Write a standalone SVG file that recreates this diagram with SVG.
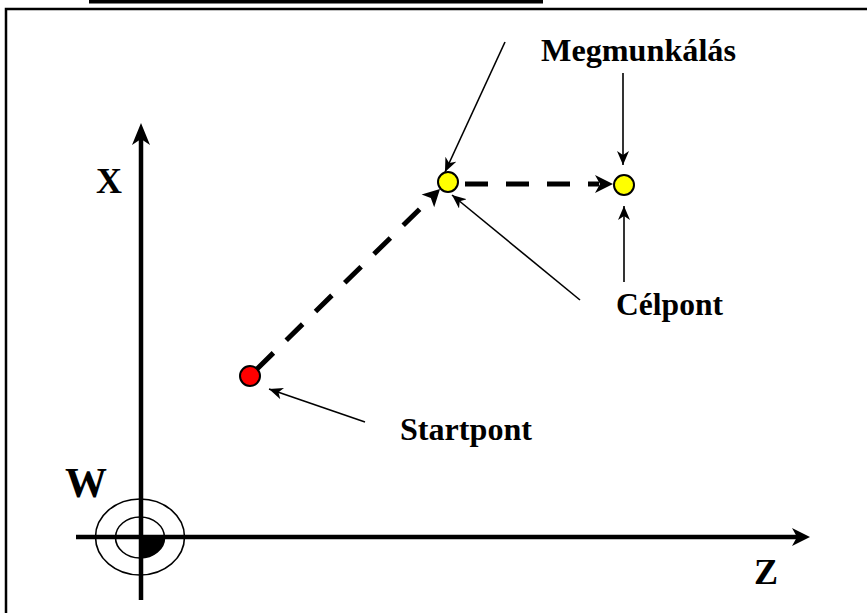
<svg xmlns="http://www.w3.org/2000/svg" width="867" height="613" viewBox="0 0 867 613">
<defs>
<style>
.lbl{font-family:"Liberation Serif","Times New Roman",serif;font-weight:bold;fill:#000}
.thin{stroke:#000;stroke-width:1.6;fill:none}
.axis{stroke:#000;stroke-width:4.5;fill:none}
.dash{stroke:#000;stroke-width:5;fill:none;stroke-dasharray:23 18}
.pt{stroke:#000;stroke-width:2}
</style>
<marker id="sm" markerUnits="userSpaceOnUse" markerWidth="14" markerHeight="12" viewBox="0 0 14 12" refX="14" refY="6" orient="auto">
<path d="M0,0 L14,6 L0,12 L4,6 z" fill="#000"/>
</marker>
</defs>
<rect width="867" height="613" fill="#fff"/>
<rect x="89" y="0" width="454" height="3.5" fill="#000"/>
<rect x="6" y="9" width="880" height="620" fill="none" stroke="#000" stroke-width="2.5"/>

<g id="axes">
<line class="axis" x1="141" y1="138" x2="141" y2="600"/>
<polygon points="141,123 132,145 141,139 150,145" fill="#000"/>
<line class="axis" x1="76" y1="537" x2="797" y2="537"/>
<polygon points="810,537 792,528 797,537 792,546" fill="#000"/>
</g>

<g id="origin-W">
<ellipse cx="140" cy="537" rx="44.5" ry="38" fill="none" stroke="#000" stroke-width="1.6"/>
<ellipse cx="140" cy="537.5" rx="24.5" ry="20.5" fill="none" stroke="#000" stroke-width="1.6"/>
<path d="M140,537.5 L164.5,537.5 A24.5,20.5 0 0 1 140,558 Z" fill="#000"/>
</g>

<g id="connectors">
<line class="dash" x1="257" y1="369" x2="430" y2="199"/>
<polygon points="440,189 421.6,194.5 430.8,198.1 434.2,207.3" fill="#000"/>
<line class="dash" x1="465" y1="184" x2="599" y2="184"/>
<polygon points="613,184 595,175 600,184 595,193" fill="#000"/>
<line class="thin" x1="505" y1="42" x2="445" y2="172" marker-end="url(#sm)"/>
<line class="thin" x1="623" y1="73" x2="623" y2="165" marker-end="url(#sm)"/>
<line class="thin" x1="624" y1="282" x2="624" y2="206" marker-end="url(#sm)"/>
<line class="thin" x1="580" y1="300" x2="452" y2="195" marker-end="url(#sm)"/>
<line class="thin" x1="365" y1="422" x2="269" y2="389" marker-end="url(#sm)"/>
</g>

<g id="startpoint"><circle class="pt" cx="250" cy="376" r="10" fill="#ff0000"/></g>
<g id="point1"><circle class="pt" cx="448" cy="182" r="10" fill="#ffff00"/></g>
<g id="point2"><circle class="pt" cx="624" cy="185" r="10" fill="#ffff00"/></g>

<g id="labels">
<text class="lbl" x="541" y="61" font-size="32" textLength="195" lengthAdjust="spacingAndGlyphs">Megmunkálás</text>
<text class="lbl" x="616" y="315" font-size="32" textLength="107" lengthAdjust="spacingAndGlyphs">Célpont</text>
<text class="lbl" x="400" y="440" font-size="32" textLength="132" lengthAdjust="spacingAndGlyphs">Startpont</text>
<text class="lbl" x="96" y="193" font-size="36">X</text>
<text class="lbl" x="754" y="584" font-size="36">Z</text>
<text class="lbl" x="65" y="497" font-size="42">W</text>
</g>
</svg>
